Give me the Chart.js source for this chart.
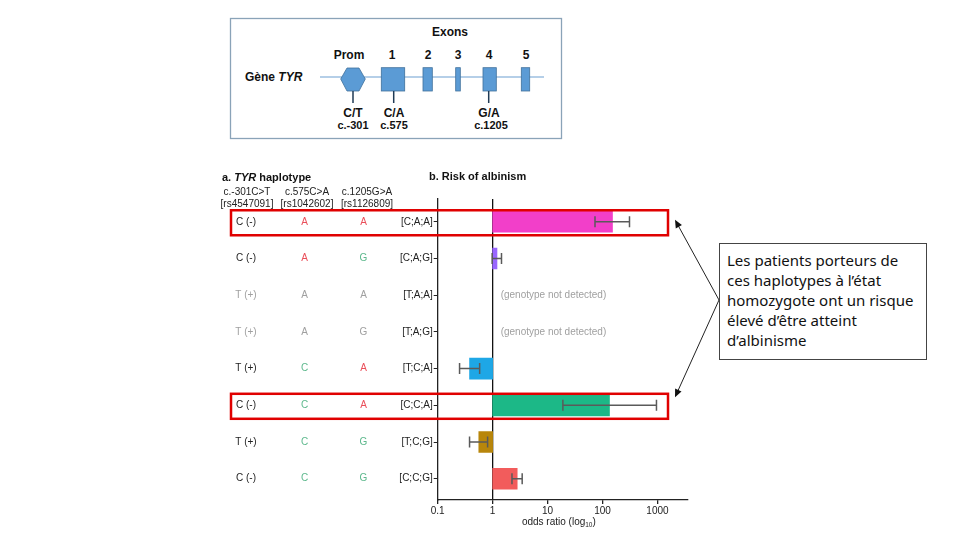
<!DOCTYPE html>
<html>
<head>
<meta charset="utf-8">
<script src="https://cdn.jsdelivr.net/npm/chart.js@4/dist/chart.umd.min.js"></script>
<style>
  html, body { margin: 0; background: #fff; }
  #wrap { position: relative; width: 960px; height: 540px; overflow: hidden; }
  #c, #gene { position: absolute; left: 0; top: 0; }
  #note {
    position: absolute; left: 719px; top: 243px; width: 208px; height: 117px;
    box-sizing: border-box; border: 1px solid #444; padding: 6px 0 0 7px;
    font: 15px/20px "Noto Sans", sans-serif; color: #111; background: #fff;
  }
</style>
</head>
<body>
<div id="wrap">
  <!-- schéma du gène TYR -->
  <svg id="gene" width="960" height="150" font-family="Liberation Sans, Arial, sans-serif" font-weight="bold" font-size="12" fill="#111">
    <rect x="230.5" y="18.5" width="331" height="120" fill="#fff" stroke="#8aa3b8" stroke-width="1.3"/>
    <text x="450" y="36" text-anchor="middle">Exons</text>
    <text x="349" y="59" text-anchor="middle">Prom</text>
    <text x="392" y="59" text-anchor="middle">1</text>
    <text x="428" y="59" text-anchor="middle">2</text>
    <text x="458" y="59" text-anchor="middle">3</text>
    <text x="489" y="59" text-anchor="middle">4</text>
    <text x="526" y="59" text-anchor="middle">5</text>
    <text x="245" y="81" font-size="12">Gène <tspan font-style="italic">TYR</tspan></text>
    <line x1="320" y1="77" x2="544" y2="77" stroke="#9cbfe0" stroke-width="1.5"/>
    <g fill="#5b9bd5" stroke="#41719c" stroke-width="0.8">
      <polygon points="340.7,79 347,68 359,68 365.3,79 359,91 347,91"/>
      <rect x="381.3" y="67.7" width="23.4" height="23.3"/>
      <rect x="423" y="67.7" width="9.3" height="23.3"/>
      <rect x="455.7" y="67.7" width="4.6" height="23.3"/>
      <rect x="483" y="67.7" width="13.3" height="23.3"/>
      <rect x="521.3" y="67.7" width="8.4" height="23.3"/>
    </g>
    <g stroke="#1f3a55" stroke-width="1.5">
      <line x1="353" y1="91" x2="353" y2="103"/>
      <line x1="393.7" y1="91" x2="393.7" y2="103"/>
      <line x1="488.7" y1="91" x2="488.7" y2="103"/>
    </g>
    <text x="353" y="117" text-anchor="middle">C/T</text>
    <text x="353" y="129" text-anchor="middle" font-size="11">c.-301</text>
    <text x="394" y="117" text-anchor="middle">C/A</text>
    <text x="394" y="129" text-anchor="middle" font-size="11">c.575</text>
    <text x="489" y="117" text-anchor="middle">G/A</text>
    <text x="491" y="129" text-anchor="middle" font-size="11">c.1205</text>
  </svg>
  <canvas id="c" width="960" height="540"></canvas>
  <div id="note">Les patients porteurs de<br>ces haplotypes à l’état<br>homozygote ont un risque<br>élevé d’être atteint<br>d’albinisme</div>
</div>
<script>
/* données (odds ratio, IC 95 %) */
const haplotypes = ['[C;A;A]', '[C;A;G]', '[T;A;A]', '[T;A;G]', '[T;C;A]', '[C;C;A]', '[T;C;G]', '[C;C;G]'];
const snp301  = ['C (-)', 'C (-)', 'T (+)', 'T (+)', 'T (+)', 'C (-)', 'T (+)', 'C (-)'];
const snp575  = ['A', 'A', 'A', 'A', 'C', 'C', 'C', 'C'];
const snp1205 = ['A', 'G', 'A', 'G', 'A', 'A', 'G', 'G'];
const oddsRatio = [152, 1.2, null, null, 0.38, 134, 0.56, 2.8];
const ciLow     = [73, 0.98, null, null, 0.25, 19, 0.38, 2.25];
const ciHigh    = [310, 1.45, null, null, 0.58, 960, 0.81, 3.45];
const barColors = ['#f23fc9', '#9966ff', null, null, '#1ea7e6', '#1cb887', '#b8860b', '#f25c5c'];
const highlighted = [0, 5];
const xTicks = [0.1, 1, 10, 100, 1000];

const FONT = '"Liberation Sans", Arial, sans-serif';
const alleleColor = (a, ok) => !ok ? '#a0a0a0' : a === 'A' ? '#ea4f5a' : '#5cb88c';

/* barres flottantes partant de OR = 1 */
const barData = [];
oddsRatio.forEach((v, i) => {
  if (v == null) return;
  barData.push({ y: i, x: [Math.min(1, v), Math.max(1, v)] });
});

function arrow(ctx, x1, y1, x2, y2) {
  const a = Math.atan2(y2 - y1, x2 - x1), L = 8, W = 3.5;
  ctx.beginPath(); ctx.moveTo(x1, y1); ctx.lineTo(x2 - Math.cos(a) * L * 0.8, y2 - Math.sin(a) * L * 0.8); ctx.stroke();
  ctx.beginPath();
  ctx.moveTo(x2, y2);
  ctx.lineTo(x2 - L * Math.cos(a) + W * Math.sin(a), y2 - L * Math.sin(a) - W * Math.cos(a));
  ctx.lineTo(x2 - L * Math.cos(a) - W * Math.sin(a), y2 - L * Math.sin(a) + W * Math.cos(a));
  ctx.closePath(); ctx.fill();
}

const overlay = {
  id: 'overlay',
  afterDatasetsDraw(chart) {
    const { ctx, scales: { x, y } } = chart;
    ctx.save();
    ctx.strokeStyle = '#5a5a5a'; ctx.lineWidth = 1.5;
    ciLow.forEach((lo, i) => {
      if (lo == null) return;
      const yc = y.getPixelForValue(i), xl = x.getPixelForValue(lo), xh = x.getPixelForValue(ciHigh[i]);
      ctx.beginPath();
      ctx.moveTo(xl, yc); ctx.lineTo(xh, yc);
      ctx.moveTo(xl, yc - 5.5); ctx.lineTo(xl, yc + 5.5);
      ctx.moveTo(xh, yc - 5.5); ctx.lineTo(xh, yc + 5.5);
      ctx.stroke();
    });
    // génotypes absents
    ctx.fillStyle = '#a0a0a0'; ctx.font = '10px ' + FONT; ctx.textBaseline = 'middle';
    oddsRatio.forEach((v, i) => {
      if (v == null) ctx.fillText('(genotype not detected)', x.getPixelForValue(1) + 8, y.getPixelForValue(i));
    });
    ctx.restore();
  },
  afterDraw(chart) {
    const { ctx, scales: { x, y } } = chart;
    ctx.save();
    ctx.textBaseline = 'middle';

    // titres des panneaux
    ctx.fillStyle = '#111';
    ctx.font = 'bold 11px ' + FONT;
    let px = 222;
    ctx.fillText('a. ', px, 178); px += ctx.measureText('a. ').width;
    ctx.font = 'italic bold 11px ' + FONT;
    ctx.fillText('TYR', px, 178); px += ctx.measureText('TYR').width;
    ctx.font = 'bold 11px ' + FONT;
    ctx.fillText(' haplotype', px, 178);
    ctx.fillText('b. Risk of albinism', 429, 177);

    // en-têtes des SNP
    ctx.font = '10px ' + FONT; ctx.textAlign = 'center'; ctx.fillStyle = '#222';
    [['c.-301C>T', '[rs4547091]', 247], ['c.575C>A', '[rs1042602]', 307], ['c.1205G>A', '[rs1126809]', 367]]
      .forEach(([a, b, cx]) => { ctx.fillText(a, cx, 192); ctx.fillText(b, cx, 204.5); });

    // colonnes du tableau
    haplotypes.forEach((h, i) => {
      const ok = oddsRatio[i] != null, yc = y.getPixelForValue(i);
      ctx.fillStyle = ok ? '#222' : '#a0a0a0';
      ctx.fillText(snp301[i], 246, yc);
      ctx.fillStyle = alleleColor(snp575[i], ok);
      ctx.fillText(snp575[i], 304.5, yc);
      ctx.fillStyle = alleleColor(snp1205[i], ok);
      ctx.fillText(snp1205[i], 363.5, yc);
    });

    // titre de l'axe x avec indice
    ctx.fillStyle = '#222'; ctx.textAlign = 'left';
    ctx.font = '10px ' + FONT;
    const t1 = 'odds ratio (log', w1 = ctx.measureText(t1).width;
    ctx.font = '6.5px ' + FONT;
    const w2 = ctx.measureText('10').width;
    ctx.font = '10px ' + FONT;
    const w3 = ctx.measureText(')').width;
    const sx = (x.left + x.right) / 2 - (w1 + w2 + w3) / 2 - 4;
    ctx.fillText(t1, sx, 522);
    ctx.font = '6.5px ' + FONT; ctx.fillText('10', sx + w1, 525);
    ctx.font = '10px ' + FONT; ctx.fillText(')', sx + w1 + w2, 522);

    // cadres rouges des haplotypes à risque
    ctx.strokeStyle = '#e00000'; ctx.lineWidth = 2.5;
    highlighted.forEach(i => {
      const yc = y.getPixelForValue(i) + 1;
      ctx.strokeRect(231, yc - 12.5, 437, 25);
    });

    // flèches vers l'encadré
    ctx.strokeStyle = '#222'; ctx.fillStyle = '#111'; ctx.lineWidth = 1;
    arrow(ctx, 719, 300, 675, y.getPixelForValue(highlighted[0]) - 2);
    arrow(ctx, 719, 300, 675, y.getPixelForValue(highlighted[1]) - 8);
    ctx.restore();
  }
};

new Chart(document.getElementById('c'), {
  type: 'bar',
  data: {
    datasets: [{
      data: barData,
      backgroundColor: c => barColors[c.raw.y],
      borderWidth: 0,
      barThickness: 21,
    }]
  },
  options: {
    responsive: false,
    animation: false,
    indexAxis: 'y',
    layout: { padding: { left: 377.7, top: 199, right: 272, bottom: 0 } },
    plugins: { legend: { display: false }, tooltip: { enabled: false } },
    scales: {
      x: {
        type: 'logarithmic', min: 0.1, max: 3600,
        afterBuildTicks: s => { s.ticks = xTicks.map(v => ({ value: v })); },
        afterFit: s => { s.height = 40; },
        ticks: { color: '#222', font: { family: FONT, size: 10 }, padding: 1, autoSkip: false,
                 callback: v => String(v) },
        grid: { drawOnChartArea: true, tickLength: 4, tickColor: '#222', lineWidth: 1.3,
                color: c => (c.tick && c.tick.value === 1 ? '#111' : 'rgba(0,0,0,0)') },
        border: { color: '#222', width: 1.3 },
      },
      y: {
        type: 'linear', reverse: true, min: -0.62, max: 7.58, offset: false,
        afterBuildTicks: s => { s.ticks = haplotypes.map((h, i) => ({ value: i })); },
        afterFit: s => { s.width = 60; },
        ticks: { color: '#222', font: { family: FONT, size: 10 }, padding: 1, autoSkip: false,
                 callback: v => haplotypes[v] },
        grid: { drawOnChartArea: false, offset: false, tickLength: 4, color: '#222' },
        border: { color: '#222', width: 1.3 },
      },
    },
  },
  plugins: [overlay],
});
</script>
</body>
</html>
